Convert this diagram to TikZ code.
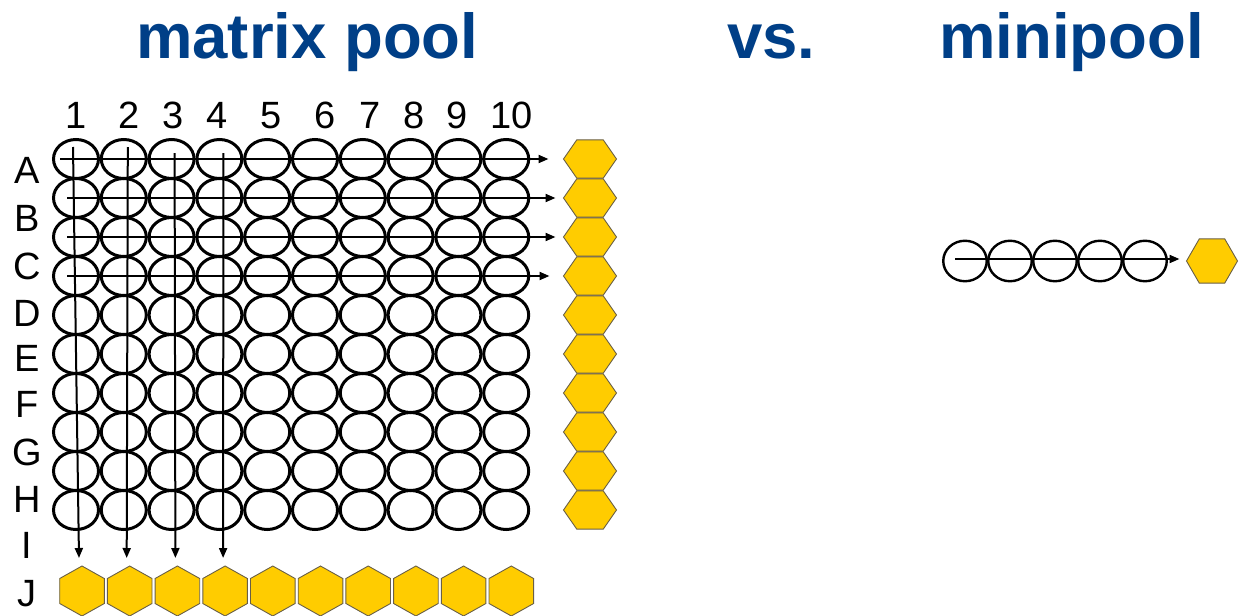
\documentclass[tikz,border=0pt]{standalone}
\usepackage{fontspec}
\setmainfont{Liberation Sans}
\usetikzlibrary{shapes.geometric,arrows.meta,calc}
\definecolor{titleblue}{RGB}{0,63,135}
\definecolor{hexfill}{RGB}{255,204,0}
\definecolor{hexline}{RGB}{105,95,70}
\begin{document}
\begin{tikzpicture}[x=1pt,y=-1pt,
 well/.style={draw=black, line width=3pt, ellipse, minimum width=45pt, minimum height=39pt, inner sep=0pt, outer sep=0pt},
 miniwell/.style={well, line width=2.4pt, minimum width=43.5pt, minimum height=40.5pt},
 hexflat/.style={regular polygon, regular polygon sides=6, fill=hexfill, draw=hexline, line width=0.9pt, inner sep=0pt, outer sep=0pt, transform shape},
 hexpoint/.style={regular polygon, regular polygon sides=6, regular polygon rotate=30, fill=hexfill, draw=hexline, line width=0.9pt, inner sep=0pt, outer sep=0pt, transform shape},
 flow/.style={line width=2pt, -{Triangle[length=10pt,width=8pt]}},
 title/.style={text=titleblue, font=\fontsize{63.5}{70}\selectfont\bfseries, anchor=base west, inner sep=0pt},
 lab/.style={font=\fontsize{38}{44}\selectfont, anchor=base, inner sep=0pt},
]
\useasboundingbox (0,0) rectangle (1243,616);

% titles
\node[title] (t1) at (136,58) {matrix pool};
\node[title] (t2) at (727,58) {vs.};
\node[title] (t3) at (939,58) {minipool};

% column numbers
\foreach \n/\x in {1/76,2/129,3/173,4/217,5/271,6/325,7/370,8/414,9/457,10/512}
  \node[lab] (n\n) at (\x,128) {\n};

% row letters
\foreach \l/\y in {A/183,B/231,C/279,D/326,E/371,F/417,G/465,H/512,I/558,J/606}
  \node[lab] (r\l) at (27,\y) {\l};

% wells
\foreach \i in {1,...,10}
  \foreach \j in {1,...,10}
    \node[well] (c-\i-\j) at ({76+47.8*(\j-1)},{159+39*(\i-1)}) {};

% right hexagons (row pools)
\foreach \i in {1,...,10}
  \node[hexflat, minimum size=53pt, shift={(590,{159+39*(\i-1)})}, yscale=0.833] (hr\i) at (0,0) {};

% bottom hexagons (column pools)
\foreach \j in {1,...,10}
  \node[hexpoint, minimum size=50pt, shift={({82+47.7*(\j-1)},591)}, xscale=1.03] (hb\j) at (0,0) {};

% row arrows
\draw[flow] ($(c-1-1.center)+(-16,0)$) -- ($(hr1.west)+(-15,0)$);
\draw[flow] ($(c-2-1.center)+(-9,0)$) -- ($(hr2.west)+(-8,0)$);
\draw[flow] ($(c-3-1.center)+(-9,0)$) -- ($(hr3.west)+(-8,0)$);
\draw[flow] ($(c-4-1.center)+(-9,0)$) -- ($(hr4.west)+(-14,0)$);

% column arrows
\draw[flow] ($(c-1-1.center)+(-3,-12)$) -- ($(hb1.north)+(-3,-8)$);
\draw[flow] ($(c-1-2.center)+(4,-12)$) -- ($(hb2.north)+(-3,-8)$);
\draw[flow] ($(c-1-3.center)+(3,-6)$) -- ($(hb3.north)+(-2,-8)$);
\draw[flow] ($(c-1-4.center)+(4,-6)$) -- ($(hb4.north)+(-2,-8)$);

% minipool
\foreach \k in {1,...,5}
  \node[miniwell] (m\k) at ({965+45*(\k-1)},261) {};
\node[hexflat, minimum size=51pt, shift={(1212,261)}] (hm) at (0,0) {};
\draw[flow] ($(m1.center)+(-10,-2)$) -- ($(hm.west)+(-7,-2)$);
\end{tikzpicture}
\end{document}
